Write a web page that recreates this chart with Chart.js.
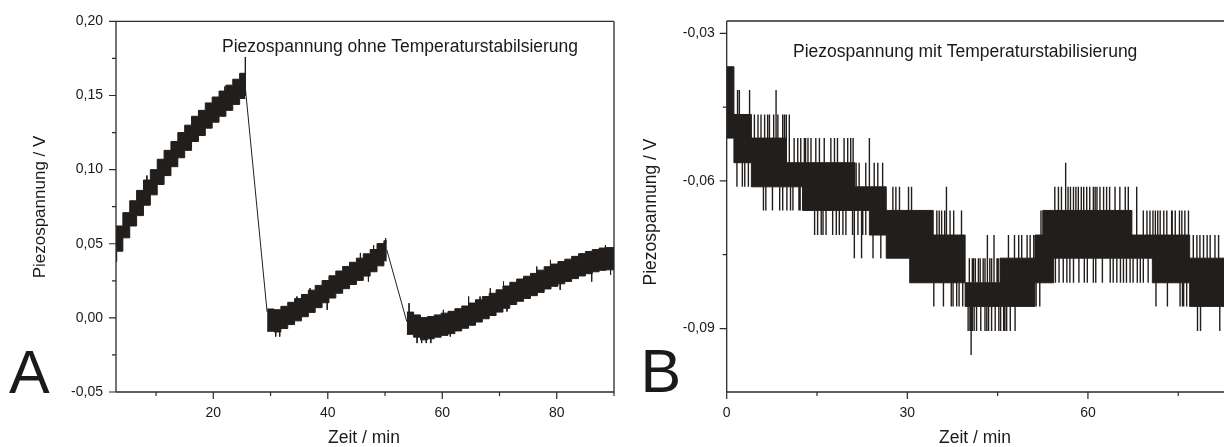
<!DOCTYPE html>
<html>
<head>
<meta charset="utf-8">
<script src="https://cdn.jsdelivr.net/npm/chart.js@4.4.0/dist/chart.umd.min.js"></script>
<style>
  html, body { margin: 0; padding: 0; background: #fff; }
  #wrap { position: relative; width: 1224px; height: 447px; overflow: hidden; }
  .box { position: absolute; top: 0; height: 447px; }
  #boxA { left: 0; width: 640px; }
  #boxB { left: 640px; width: 584px; }
</style>
</head>
<body>
<div id="wrap">
  <div class="box" id="boxA"><canvas id="chartA" width="640" height="447"></canvas></div>
  <div class="box" id="boxB"><canvas id="chartB" width="584" height="447"></canvas></div>
</div>
<script>
// Werte gelten jeweils ab ihrem Zeitpunkt bis zum naechsten (Stufenkurve)

// --- Panel A: Piezospannung ohne Temperaturstabilisierung (band read as lower/upper edge) ---
const aBand1T  = [3.0, 4.2, 5.4, 6.6, 7.8, 9.0, 10.2, 11.4, 12.6, 13.8, 15.0, 16.2, 17.4, 18.6, 19.8, 21.0, 22.2, 23.4, 24.6, 25.6];
const aBand1Lo = [0.045, 0.054, 0.062, 0.069, 0.076, 0.083, 0.090, 0.096, 0.102, 0.108, 0.113, 0.119, 0.123, 0.128, 0.132, 0.136, 0.140, 0.144, 0.148, 0.148];
const aBand1Hi = [0.062, 0.071, 0.079, 0.086, 0.093, 0.100, 0.107, 0.113, 0.119, 0.125, 0.130, 0.136, 0.140, 0.145, 0.149, 0.153, 0.157, 0.161, 0.165, 0.165];

const aBand2T  = [29.4, 30.6, 31.8, 33.0, 34.2, 35.4, 36.6, 37.8, 39.0, 40.2, 41.4, 42.6, 43.8, 45.0, 46.2, 47.4, 48.6, 49.8, 50.3];
const aBand2Lo = [-0.0090, -0.0095, -0.0072, -0.0045, -0.0020, 0.0008, 0.0037, 0.0069, 0.0102, 0.0134, 0.0166, 0.0197, 0.0225, 0.0253, 0.0282, 0.0311, 0.0351, 0.0385, 0.0385];
const aBand2Hi = [0.0060, 0.0055, 0.0078, 0.0105, 0.0130, 0.0158, 0.0187, 0.0219, 0.0252, 0.0284, 0.0316, 0.0347, 0.0375, 0.0403, 0.0432, 0.0461, 0.0501, 0.0520, 0.0520];

const aBand3T  = [53.8, 55.0, 56.2, 57.4, 58.6, 59.8, 61.0, 62.2, 63.4, 64.6, 65.8, 67.0, 68.2, 69.4, 70.6, 71.8, 73.0, 74.2, 75.4, 76.6, 77.8, 79.0, 80.2, 81.4, 82.6, 83.8, 85.0, 86.2, 87.4, 88.6, 90.0];
const aBand3Lo = [-0.0111, -0.0130, -0.0148, -0.0141, -0.0130, -0.0118, -0.0106, -0.0088, -0.0070, -0.0050, -0.0028, -0.0006, 0.0016, 0.0039, 0.0065, 0.0090, 0.0112, 0.0131, 0.0150, 0.0172, 0.0195, 0.0213, 0.0230, 0.0246, 0.0265, 0.0283, 0.0298, 0.0311, 0.0321, 0.0324, 0.0324];
const aBand3Hi = [0.0039, 0.0020, 0.0002, 0.0009, 0.0020, 0.0032, 0.0044, 0.0062, 0.0080, 0.0100, 0.0122, 0.0144, 0.0166, 0.0189, 0.0215, 0.0240, 0.0262, 0.0281, 0.0300, 0.0322, 0.0345, 0.0363, 0.0380, 0.0396, 0.0415, 0.0433, 0.0448, 0.0461, 0.0471, 0.0474, 0.0474];

// thin lines where the recording jumps between the bands
const aJumpT = [25.6, 29.4, null, 50.3, 53.8];
const aJumpV = [0.155, 0.004, null, 0.046, -0.0025];

// single spikes sticking out of the band
const aSpikeT  = [3.1, 25.6, 50.1, 34.6, 36.9, 39.3, 45.7, 48.0, 30.9, 31.6, 39.9, 47.1, 54.2, 60.2, 64.6, 66.6, 68.4, 70.7, 76.5, 78.9, 84.4, 88.5, 55.6, 56.4, 57.2, 58.0, 61.4, 71.3, 80.6, 86.1, 89.4, 8.4, 13.1, 17.8, 22.0];
const aSpikeLo = [0.038, 0.150, 0.040, 0.004, 0.010, 0.015, 0.033, 0.038, -0.0126, -0.0126, 0.0054, 0.0245, -0.002, -0.004, 0.004, 0.006, 0.010, 0.015, 0.025, 0.030, 0.035, 0.040, -0.017, -0.017, -0.017, -0.017, -0.0126, 0.0043, 0.0189, 0.0245, 0.029, 0.085, 0.108, 0.128, 0.143];
const aSpikeHi = [0.050, 0.176, 0.0537, 0.0144, 0.020, 0.0245, 0.0438, 0.049, -0.004, -0.004, 0.014, 0.033, 0.0099, 0.0054, 0.0144, 0.0144, 0.020, 0.0245, 0.0346, 0.0391, 0.0436, 0.049, -0.010, -0.010, -0.010, -0.010, -0.005, 0.012, 0.027, 0.033, 0.037, 0.096, 0.119, 0.139, 0.156];

const aXMajor = [20, 40, 60, 80];
const aXMinor = [10, 30, 50, 70, 90];
const aYMajor = [-0.05, 0, 0.05, 0.10, 0.15, 0.20];
const aYMinor = [-0.025, 0.025, 0.075, 0.125, 0.175];

// --- Panel B: Piezospannung mit Temperaturstabilisierung (quantised levels, dense core) ---
const bCoreT  = [0, 1.2, 4.1, 9.9, 12.6, 21.3, 23.7, 26.5, 30.4, 34.3, 39.6, 45.4, 51.2, 52.5, 54.3, 67.3, 70.7, 76.9, 82.6];
const bCoreHi = [-0.0368, -0.0465, -0.0513, -0.0563, -0.0563, -0.0612, -0.0612, -0.0660, -0.0660, -0.0710, -0.0807, -0.0757, -0.0710, -0.0660, -0.0660, -0.0710, -0.0710, -0.0757, -0.0757];
const bCoreLo = [-0.0513, -0.0563, -0.0612, -0.0612, -0.0660, -0.0660, -0.0710, -0.0757, -0.0807, -0.0807, -0.0855, -0.0855, -0.0807, -0.0807, -0.0757, -0.0757, -0.0807, -0.0855, -0.0855];

const bSpikeT = [
  1.8, 2.1, 3.8, 8.2,
  5.2, 5.7, 6.3, 6.8, 7.1, 8.5, 9.3, 9.9, 10.4, 4.6, 7.8, 9.6,
  1.7, 2.6, 3.0, 3.6,
  11.2, 11.8, 12.3, 12.9, 13.5, 14.0, 14.8, 15.4, 17.3, 17.9, 19.5, 20.6, 23.7, 13.1, 16.2, 18.4, 20.1, 21.0,
  6.1, 6.5, 7.6, 10.0, 10.6, 11.0, 12.0, 12.2, 8.8, 9.3,
  21.5, 22.0, 23.1, 24.5, 25.1, 25.9,
  14.6, 15.1, 15.7, 16.5, 17.6, 18.7, 19.8, 20.9, 21.8, 22.6, 23.1, 16.0, 18.2, 19.3,
  27.6, 28.1, 28.7, 30.2, 30.7,
  21.2, 22.4, 24.3, 25.6,
  34.9, 35.3, 35.7, 36.2, 37.1, 37.7, 39.0, 36.5,
  34.4, 36.0, 37.3, 37.6, 38.2, 38.6, 39.2,
  41.0, 41.3, 41.8, 42.1, 43.3, 43.7, 44.4, 45.1, 40.3, 40.8, 42.6, 42.9, 44.0, 44.9,
  40.1, 40.4, 41.1, 41.5, 42.2, 42.9, 43.5, 44.0, 44.6, 45.2, 46.0, 46.5, 47.1, 47.9, 40.6, 40.8, 43.2, 45.5, 46.2,
  46.8, 47.8, 48.5, 49.0, 49.9, 50.4, 51.0,
  51.4, 52.0, 52.2,
  54.5, 55.1, 55.6, 56.7, 57.1, 58.4, 58.9, 59.3, 59.8, 60.3, 60.9, 61.5, 62.0, 62.6, 63.1, 64.5, 65.3, 66.2, 66.7, 56.3, 68.1, 57.6, 58.0, 61.2, 63.6,
  54.6, 55.2, 55.9, 56.5, 57.0, 57.6, 58.5, 59.4, 59.9, 60.9, 63.7, 64.2, 64.8, 65.4, 65.9, 66.4, 67.0, 67.5, 68.7, 70.0, 61.3, 62.4, 68.2, 69.2,
  69.2, 69.8, 70.3, 71.2, 72.0, 72.6, 73.1, 73.9, 74.5, 75.6, 76.1, 76.7, 70.8, 71.6, 74.0, 75.2,
  71.3, 73.2, 75.3, 75.7, 75.9, 76.4,
  77.5, 78.1, 78.6, 79.2, 79.8, 80.3, 81.1, 81.7,
  78.2, 78.7, 81.9
];
const bSpikeHi = [
  -0.0415, -0.0415, -0.0415, -0.0415,
  -0.0465, -0.0465, -0.0465, -0.0465, -0.0465, -0.0465, -0.0465, -0.0465, -0.0465, -0.0465, -0.0465, -0.0465,
  -0.0563, -0.0563, -0.0563, -0.0563,
  -0.0513, -0.0513, -0.0513, -0.0513, -0.0513, -0.0513, -0.0513, -0.0513, -0.0513, -0.0513, -0.0513, -0.0513, -0.0513, -0.0513, -0.0513, -0.0513, -0.0513, -0.0513,
  -0.0612, -0.0612, -0.0612, -0.0612, -0.0612, -0.0612, -0.0612, -0.0612, -0.0612, -0.0612,
  -0.0563, -0.0563, -0.0563, -0.0563, -0.0563, -0.0563,
  -0.0660, -0.0660, -0.0660, -0.0660, -0.0660, -0.0660, -0.0660, -0.0660, -0.0660, -0.0660, -0.0660, -0.0660, -0.0660, -0.0660,
  -0.0612, -0.0612, -0.0612, -0.0612, -0.0612,
  -0.0660, -0.0660, -0.0710, -0.0710,
  -0.0660, -0.0660, -0.0660, -0.0660, -0.0660, -0.0660, -0.0660, -0.0612,
  -0.0807, -0.0807, -0.0807, -0.0807, -0.0807, -0.0807, -0.0807,
  -0.0757, -0.0757, -0.0757, -0.0757, -0.0710, -0.0757, -0.0710, -0.0757, -0.0757, -0.0757, -0.0757, -0.0757, -0.0757, -0.0757,
  -0.0855, -0.0855, -0.0855, -0.0855, -0.0855, -0.0855, -0.0855, -0.0855, -0.0855, -0.0855, -0.0855, -0.0855, -0.0855, -0.0855, -0.0855, -0.0855, -0.0855, -0.0855, -0.0855,
  -0.0710, -0.0710, -0.0710, -0.0710, -0.0710, -0.0710, -0.0710,
  -0.0807, -0.0807, -0.0660,
  -0.0612, -0.0612, -0.0612, -0.0612, -0.0612, -0.0612, -0.0612, -0.0612, -0.0612, -0.0612, -0.0612, -0.0612, -0.0612, -0.0612, -0.0612, -0.0612, -0.0612, -0.0612, -0.0612, -0.0563, -0.0612, -0.0612, -0.0612, -0.0612, -0.0612,
  -0.0757, -0.0757, -0.0757, -0.0757, -0.0757, -0.0757, -0.0757, -0.0757, -0.0757, -0.0757, -0.0757, -0.0757, -0.0757, -0.0757, -0.0757, -0.0757, -0.0757, -0.0757, -0.0757, -0.0757, -0.0757, -0.0757, -0.0757, -0.0757,
  -0.0660, -0.0660, -0.0660, -0.0660, -0.0660, -0.0660, -0.0660, -0.0660, -0.0660, -0.0660, -0.0660, -0.0660, -0.0660, -0.0660, -0.0660, -0.0660,
  -0.0807, -0.0807, -0.0807, -0.0807, -0.0807, -0.0807,
  -0.0710, -0.0710, -0.0710, -0.0710, -0.0710, -0.0710, -0.0710, -0.0710,
  -0.0855, -0.0855, -0.0855
];
const bSpikeLo = [
  -0.0465, -0.0465, -0.0465, -0.0513,
  -0.0513, -0.0513, -0.0513, -0.0513, -0.0513, -0.0513, -0.0513, -0.0563, -0.0563, -0.0513, -0.0513, -0.0513,
  -0.0612, -0.0612, -0.0612, -0.0612,
  -0.0563, -0.0563, -0.0563, -0.0563, -0.0563, -0.0563, -0.0563, -0.0563, -0.0563, -0.0563, -0.0563, -0.0563, -0.0612, -0.0563, -0.0563, -0.0563, -0.0563, -0.0563,
  -0.0660, -0.0660, -0.0660, -0.0660, -0.0660, -0.0660, -0.0660, -0.0660, -0.0660, -0.0660,
  -0.0612, -0.0612, -0.0612, -0.0612, -0.0612, -0.0612,
  -0.0710, -0.0710, -0.0710, -0.0710, -0.0710, -0.0710, -0.0710, -0.0710, -0.0710, -0.0710, -0.0710, -0.0710, -0.0710, -0.0710,
  -0.0660, -0.0660, -0.0660, -0.0660, -0.0660,
  -0.0757, -0.0757, -0.0757, -0.0757,
  -0.0710, -0.0710, -0.0710, -0.0710, -0.0710, -0.0710, -0.0710, -0.0710,
  -0.0855, -0.0855, -0.0855, -0.0855, -0.0855, -0.0855, -0.0855,
  -0.0807, -0.0807, -0.0807, -0.0807, -0.0807, -0.0807, -0.0807, -0.0807, -0.0807, -0.0807, -0.0807, -0.0807, -0.0807, -0.0807,
  -0.0905, -0.0905, -0.0905, -0.0905, -0.0905, -0.0905, -0.0905, -0.0905, -0.0905, -0.0905, -0.0905, -0.0905, -0.0905, -0.0905, -0.0954, -0.0905, -0.0905, -0.0905, -0.0905,
  -0.0757, -0.0757, -0.0757, -0.0757, -0.0757, -0.0757, -0.0757,
  -0.0855, -0.0855, -0.0710,
  -0.0660, -0.0660, -0.0660, -0.0660, -0.0660, -0.0660, -0.0660, -0.0660, -0.0660, -0.0660, -0.0660, -0.0660, -0.0660, -0.0660, -0.0660, -0.0660, -0.0660, -0.0660, -0.0660, -0.0660, -0.0710, -0.0660, -0.0660, -0.0660, -0.0660,
  -0.0807, -0.0807, -0.0807, -0.0807, -0.0807, -0.0807, -0.0807, -0.0807, -0.0807, -0.0807, -0.0807, -0.0807, -0.0807, -0.0807, -0.0807, -0.0807, -0.0807, -0.0807, -0.0807, -0.0807, -0.0807, -0.0807, -0.0807, -0.0807,
  -0.0710, -0.0710, -0.0710, -0.0710, -0.0710, -0.0710, -0.0710, -0.0710, -0.0710, -0.0710, -0.0710, -0.0710, -0.0710, -0.0710, -0.0710, -0.0710,
  -0.0855, -0.0855, -0.0855, -0.0855, -0.0855, -0.0855,
  -0.0757, -0.0757, -0.0757, -0.0757, -0.0757, -0.0757, -0.0757, -0.0757,
  -0.0905, -0.0905, -0.0905
];

const bXMajor = [0, 30, 60];
const bXMinor = [15, 45, 75];
const bYMajor = [-0.09, -0.06, -0.03];
const bYMinor = [-0.075, -0.045];

const ink = '#221e1c';
const fontFam = "'Liberation Sans', Arial, Helvetica, sans-serif";

function toPts(t, v) {
  return t.map((x, i) => ({ x: x, y: v[i] }));
}

// Chart.js stepped 'before': the value of a point holds until the next point
function bandSets(t, lo, hi) {
  return [
    { data: toPts(t, lo), stepped: 'before', borderColor: ink, borderWidth: 1, pointRadius: 0, fill: false },
    { data: toPts(t, hi), stepped: 'before', borderColor: ink, borderWidth: 1, pointRadius: 0, fill: '-1', backgroundColor: ink }
  ];
}

function spikeSet(t, lo, hi, w) {
  const pts = [];
  t.forEach((x, i) => {
    pts.push({ x: x, y: hi[i] }, { x: x, y: lo[i] }, { x: x, y: null });
  });
  return { data: pts, borderColor: ink, borderWidth: w, pointRadius: 0, spanGaps: false, fill: false };
}

function commaFmt(v) {
  if (Math.abs(v) < 1e-9) v = 0;
  return v.toFixed(2).replace('.', ',');
}

// Rahmen, Haupt-/Nebenstriche und Beschriftungen
const framePlugin = {
  id: 'frame',
  afterDraw(chart, args, o) {
    const { ctx, chartArea: a, scales } = chart;
    const x = scales.x, y = scales.y;
    ctx.save();
    ctx.strokeStyle = '#2b2b2b';
    ctx.lineWidth = 1.3;
    ctx.beginPath();
    ctx.moveTo(a.left, a.top); ctx.lineTo(a.left, a.bottom);
    ctx.moveTo(a.left, a.bottom); ctx.lineTo(a.right, a.bottom);
    ctx.moveTo(a.left, a.top); ctx.lineTo(a.right, a.top);
    if (o.rightSide) { ctx.moveTo(a.right, a.top); ctx.lineTo(a.right, a.bottom); }
    ctx.stroke();

    ctx.lineWidth = 1.2;
    ctx.beginPath();
    o.xMajor.forEach(v => { const p = x.getPixelForValue(v); ctx.moveTo(p, a.bottom); ctx.lineTo(p, a.bottom + 7); });
    o.xMinor.forEach(v => { const p = x.getPixelForValue(v); if (p <= a.right) { ctx.moveTo(p, a.bottom); ctx.lineTo(p, a.bottom + 4); } });
    o.yMajor.forEach(v => { const p = y.getPixelForValue(v); ctx.moveTo(a.left, p); ctx.lineTo(a.left - 7, p); });
    o.yMinor.forEach(v => { const p = y.getPixelForValue(v); ctx.moveTo(a.left, p); ctx.lineTo(a.left - 4, p); });
    ctx.stroke();

    ctx.fillStyle = '#1a1a1a';
    o.texts.forEach(t => {
      ctx.save();
      ctx.font = t.size + 'px ' + fontFam;
      ctx.textAlign = t.align || 'left';
      ctx.textBaseline = 'alphabetic';
      ctx.translate(t.x, t.y);
      if (t.rot) ctx.rotate(t.rot);
      ctx.fillText(t.text, 0, 0);
      ctx.restore();
    });
    ctx.restore();
  }
};

function makeOptions(xr, yr, yWidth, padRight, yStep, xStep, tickPadY, frame) {
  return {
    responsive: false,
    animation: false,
    layout: { padding: { top: 21, right: padRight, left: 0, bottom: 0 } },
    plugins: { legend: { display: false }, tooltip: { enabled: false }, frame: frame },
    scales: {
      x: {
        type: 'linear', min: xr[0], max: xr[1], offset: false,
        grid: { display: false, drawTicks: false },
        border: { display: false },
        ticks: { stepSize: xStep, includeBounds: false, padding: 13, color: '#1a1a1a',
                 font: { family: fontFam, size: 14 }, maxRotation: 0 },
        afterFit: s => { s.height = 55; }
      },
      y: {
        type: 'linear', min: yr[0], max: yr[1],
        grid: { display: false, drawTicks: false },
        border: { display: false },
        ticks: { stepSize: yStep, includeBounds: false, padding: tickPadY, color: '#1a1a1a',
                 font: { family: fontFam, size: 14 }, callback: v => commaFmt(v) },
        afterFit: s => { s.width = yWidth; }
      }
    }
  };
}

new Chart(document.getElementById('chartA'), {
  type: 'line',
  data: {
    datasets: [
      ...bandSets(aBand1T, aBand1Lo, aBand1Hi),
      ...bandSets(aBand2T, aBand2Lo, aBand2Hi),
      ...bandSets(aBand3T, aBand3Lo, aBand3Hi),
      { data: aJumpT.map((t, i) => ({ x: t, y: aJumpV[i] })), borderColor: ink, borderWidth: 1, pointRadius: 0, spanGaps: false, fill: false },
      spikeSet(aSpikeT, aSpikeLo, aSpikeHi, 1)
    ]
  },
  options: makeOptions([3, 90], [-0.05, 0.20], 116, 26, 0.05, 20, 13, {
    rightSide: true,
    xMajor: aXMajor, xMinor: aXMinor, yMajor: aYMajor, yMinor: aYMinor,
    texts: [
      { text: 'Piezospannung ohne Temperaturstabilsierung', x: 222, y: 51.5, size: 17.5 },
      { text: 'Zeit / min', x: 364, y: 443, size: 17.5, align: 'center' },
      { text: 'Piezospannung / V', x: 45, y: 207, size: 17, align: 'center', rot: -Math.PI / 2 },
      { text: 'A', x: 9, y: 393, size: 61 }
    ]
  }),
  plugins: [framePlugin]
});

new Chart(document.getElementById('chartB'), {
  type: 'line',
  data: {
    datasets: [
      ...bandSets(bCoreT, bCoreLo, bCoreHi),
      spikeSet(bSpikeT, bSpikeLo, bSpikeHi, 1.4)
    ]
  },
  options: makeOptions([0, 82.6], [-0.1029, -0.0275], 86.7, 0, 0.03, 30, 12, {
    rightSide: false,
    xMajor: bXMajor, xMinor: bXMinor, yMajor: bYMajor, yMinor: bYMinor,
    texts: [
      { text: 'Piezospannung mit Temperaturstabilisierung', x: 153, y: 56.5, size: 17.5 },
      { text: 'Zeit / min', x: 335, y: 443, size: 17.5, align: 'center' },
      { text: 'Piezospannung / V', x: 16, y: 212, size: 17.5, align: 'center', rot: -Math.PI / 2 },
      { text: 'B', x: 0.5, y: 392, size: 61 }
    ]
  }),
  plugins: [framePlugin]
});
</script>
</body>
</html>
